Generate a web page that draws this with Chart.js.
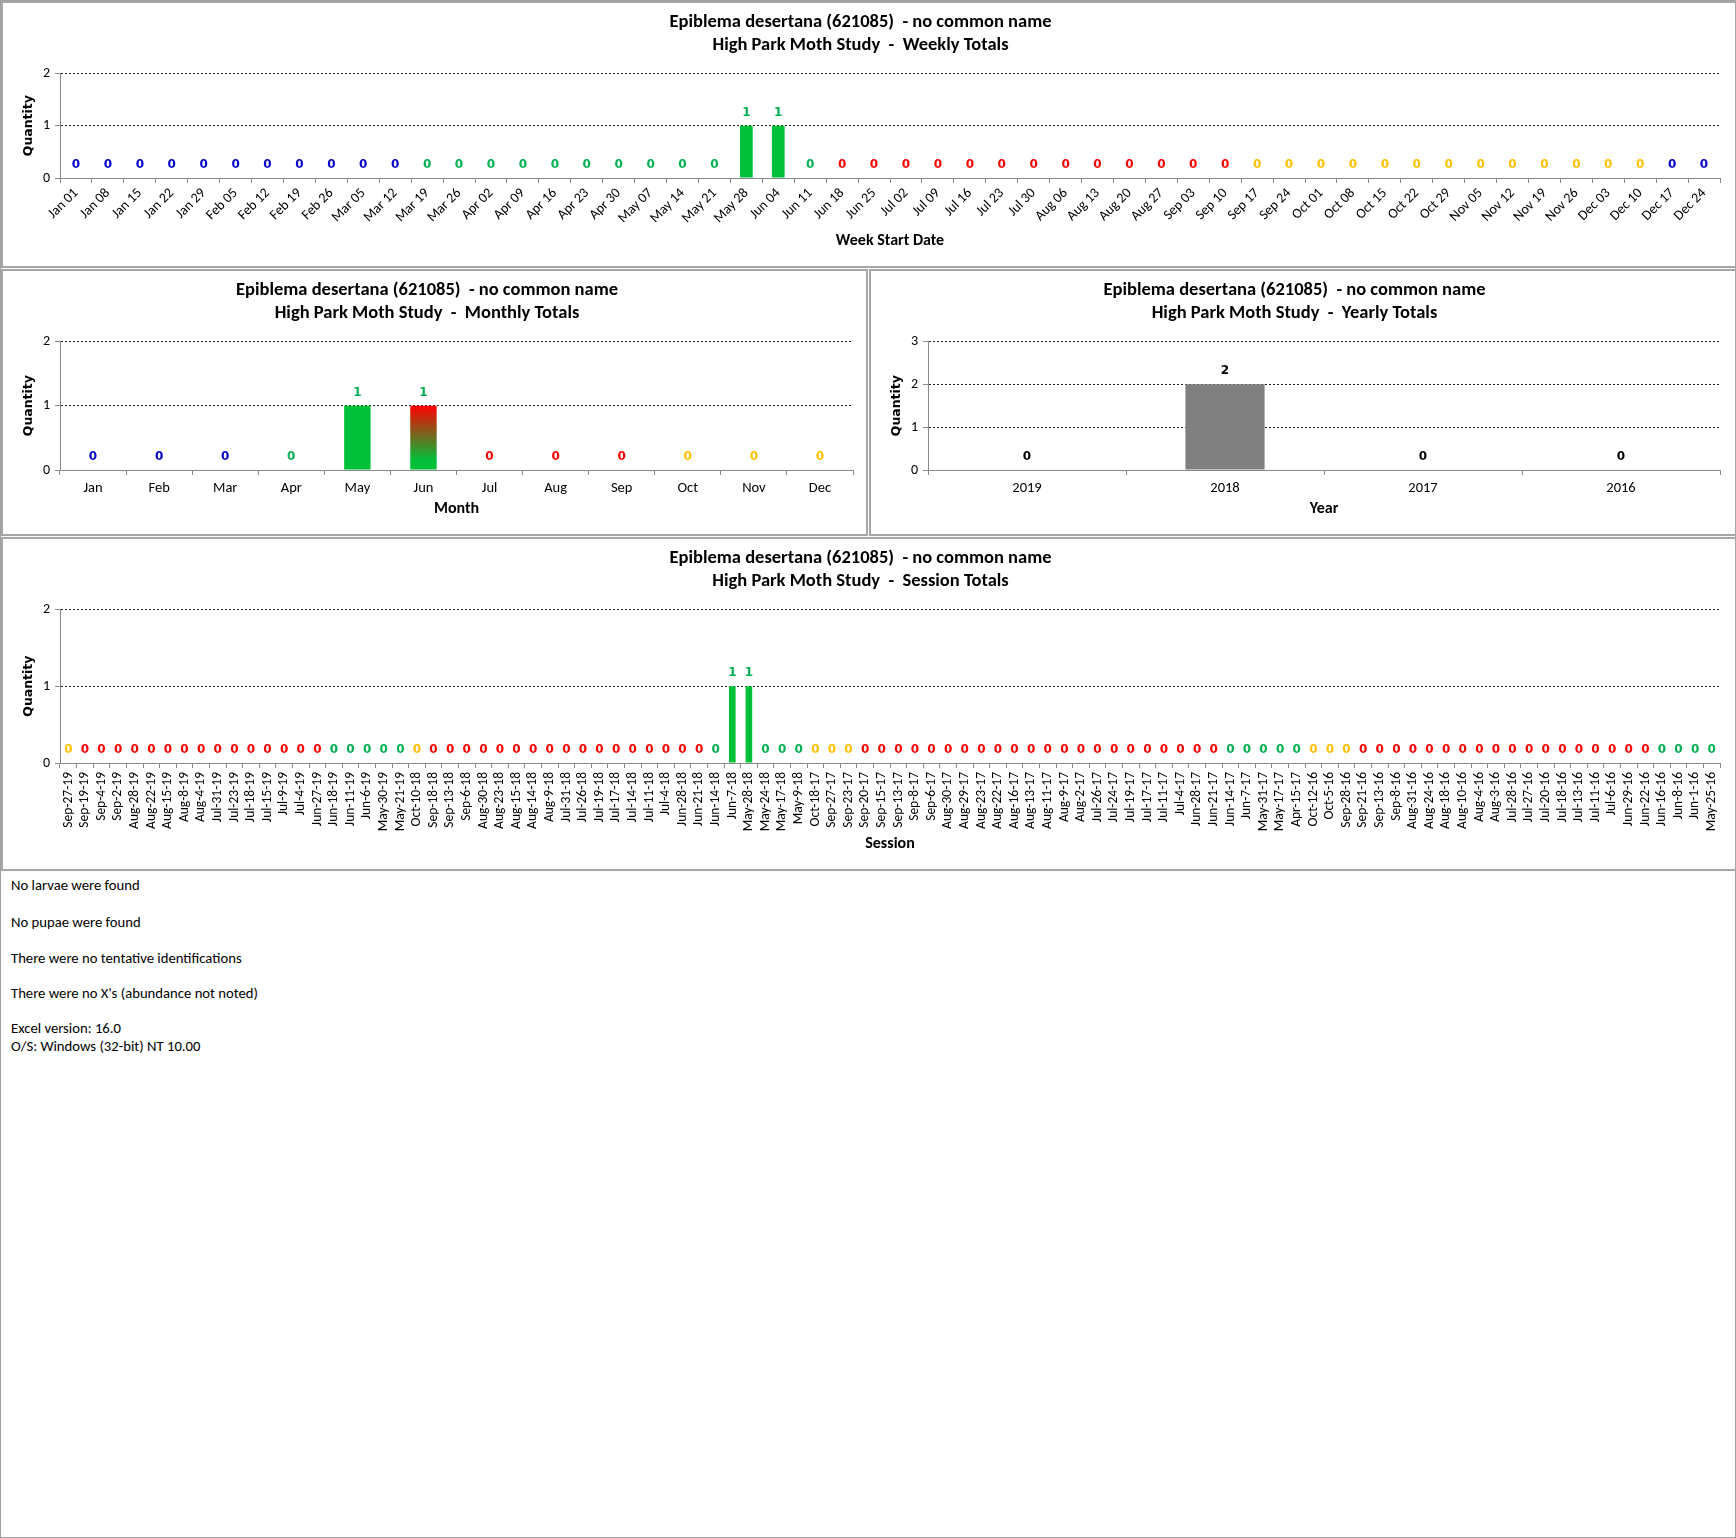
<!DOCTYPE html>
<html>
<head>
<meta charset="utf-8">
<script src="https://cdn.jsdelivr.net/npm/chart.js@4.4.1/dist/chart.umd.min.js"></script>
<style>
  body { margin: 0; background: #fff; }
  #page { position: relative; width: 1736px; height: 1538px; border: 1px solid #a0a0a0; box-sizing: border-box; }
  .panel { position: absolute; border: 2px solid #a6a6a6; box-sizing: border-box; }
  .panel canvas { position: absolute; left: -2px; top: -2px; }
  .note { position: absolute; left: 10px; height: 18px; line-height: 18px; font: 14.7px Carlito, Lato, sans-serif; color: #000; white-space: nowrap; }
</style>
</head>
<body>
<div id="page">
  <div class="panel" style="left:0;top:0;width:1736px;height:267px"><canvas id="weekly"></canvas></div>
  <div class="panel" style="left:0;top:268px;width:867px;height:267px"><canvas id="monthly"></canvas></div>
  <div class="panel" style="left:868px;top:268px;width:868px;height:267px"><canvas id="yearly"></canvas></div>
  <div class="panel" style="left:0;top:536px;width:1736px;height:334px"><canvas id="session"></canvas></div>

  <div class="note" style="top:875px">No larvae were found</div>
  <div class="note" style="top:912px">No pupae were found</div>
  <div class="note" style="top:948px">There were no tentative identifications</div>
  <div class="note" style="top:983px">There were no X's (abundance not noted)</div>
  <div class="note" style="top:1018px">Excel version: 16.0</div>
  <div class="note" style="top:1036px">O/S: Windows (32-bit) NT 10.00</div>
</div>

<script>
const speciesTitle = 'Epiblema desertana (621085)  - no common name';

const weekLabels = ['Jan 01','Jan 08','Jan 15','Jan 22','Jan 29','Feb 05','Feb 12','Feb 19','Feb 26',
  'Mar 05','Mar 12','Mar 19','Mar 26','Apr 02','Apr 09','Apr 16','Apr 23','Apr 30','May 07','May 14',
  'May 21','May 28','Jun 04','Jun 11','Jun 18','Jun 25','Jul 02','Jul 09','Jul 16','Jul 23','Jul 30',
  'Aug 06','Aug 13','Aug 20','Aug 27','Sep 03','Sep 10','Sep 17','Sep 24','Oct 01','Oct 08','Oct 15',
  'Oct 22','Oct 29','Nov 05','Nov 12','Nov 19','Nov 26','Dec 03','Dec 10','Dec 17','Dec 24'];
const weekValues = [0,0,0,0,0,0,0,0,0,0,0,0,0,0,0,0,0,0,0,0,0,1,1,0,0,0,
  0,0,0,0,0,0,0,0,0,0,0,0,0,0,0,0,0,0,0,0,0,0,0,0,0,0];

const monthLabels = ['Jan','Feb','Mar','Apr','May','Jun','Jul','Aug','Sep','Oct','Nov','Dec'];
const monthValues = [0,0,0,0,1,1,0,0,0,0,0,0];

const yearLabels = ['2019','2018','2017','2016'];
const yearValues = [0,2,0,0];

const sessionLabels = ['Sep-27-19','Sep-19-19','Sep-4-19','Sep-2-19','Aug-28-19','Aug-22-19','Aug-15-19',
  'Aug-8-19','Aug-4-19','Jul-31-19','Jul-23-19','Jul-18-19','Jul-15-19','Jul-9-19','Jul-4-19','Jun-27-19',
  'Jun-18-19','Jun-11-19','Jun-6-19','May-30-19','May-21-19','Oct-10-18','Sep-18-18','Sep-13-18','Sep-6-18',
  'Aug-30-18','Aug-23-18','Aug-15-18','Aug-14-18','Aug-9-18','Jul-31-18','Jul-26-18','Jul-19-18','Jul-17-18',
  'Jul-14-18','Jul-11-18','Jul-4-18','Jun-28-18','Jun-21-18','Jun-14-18','Jun-7-18','May-28-18','May-24-18',
  'May-17-18','May-9-18','Oct-18-17','Sep-27-17','Sep-23-17','Sep-20-17','Sep-15-17','Sep-13-17','Sep-8-17',
  'Sep-6-17','Aug-30-17','Aug-29-17','Aug-23-17','Aug-22-17','Aug-16-17','Aug-13-17','Aug-11-17','Aug-9-17',
  'Aug-2-17','Jul-26-17','Jul-24-17','Jul-19-17','Jul-17-17','Jul-11-17','Jul-4-17','Jun-28-17','Jun-21-17',
  'Jun-14-17','Jun-7-17','May-31-17','May-17-17','Apr-15-17','Oct-12-16','Oct-5-16','Sep-28-16','Sep-21-16',
  'Sep-13-16','Sep-8-16','Aug-31-16','Aug-24-16','Aug-18-16','Aug-10-16','Aug-4-16','Aug-3-16','Jul-28-16',
  'Jul-27-16','Jul-20-16','Jul-18-16','Jul-13-16','Jul-11-16','Jul-6-16','Jun-29-16','Jun-22-16','Jun-16-16',
  'Jun-8-16','Jun-1-16','May-25-16'];
const sessionValues = [0,0,0,0,0,0,0,0,0,0,0,0,0,0,0,0,0,0,0,0,
  0,0,0,0,0,0,0,0,0,0,0,0,0,0,0,0,0,0,0,0,
  1,1,0,0,0,0,0,0,0,0,0,0,0,0,0,0,0,0,0,0,
  0,0,0,0,0,0,0,0,0,0,0,0,0,0,0,0,0,0,0,0,
  0,0,0,0,0,0,0,0,0,0,0,0,0,0,0,0,0,0,0,0];

// season colours (text and bars)
const MON = ['Jan','Feb','Mar','Apr','May','Jun','Jul','Aug','Sep','Oct','Nov','Dec'];
const TEXT_COL = { spring: '#00b050', summer: '#ff0000', autumn: '#ffc000', winter: '#0000cc' };
const BAR_COL = { spring: '#00c03a', summer: '#ff0000', autumn: '#ffc000', winter: '#0000cc' };
const CAL = 'Carlito, Calibri, Lato, sans-serif';

function season(m, d) {
  const v = m * 100 + d;
  if (v >= 220 && v <= 520) return 'spring';
  if (v >= 521 && v <= 821) return 'summer';
  if (v >= 822 && v <= 1120) return 'autumn';
  return 'winter';
}
function weekSeason(lbl) {
  const [mm, dd] = lbl.split(' ');
  const end = new Date(2018, MON.indexOf(mm), parseInt(dd, 10) + 6);
  return season(end.getMonth(), end.getDate());
}
function sessionSeason(lbl) {
  const p = lbl.split('-');
  return season(MON.indexOf(p[0]), parseInt(p[1], 10));
}

const valueLabels = {
  id: 'valueLabels',
  afterDatasetsDraw(chart) {
    const ctx = chart.ctx;
    const ds = chart.data.datasets[0];
    const meta = chart.getDatasetMeta(0);
    ctx.save();
    ctx.font = ds.labelFont;
    ctx.textAlign = 'center';
    ctx.textBaseline = 'middle';
    meta.data.forEach((bar, i) => {
      ctx.fillStyle = ds.labelColors[i];
      ctx.fillText(String(ds.data[i]), bar.x, Math.min(bar.y, bar.base) - 13);
    });
    ctx.restore();
  }
};

function barChart(id, w, h, c) {
  const cv = document.getElementById(id);
  cv.width = w; cv.height = h;
  cv.style.width = w + 'px'; cv.style.height = h + 'px';
  return new Chart(cv, {
    type: 'bar',
    data: {
      labels: c.labels,
      datasets: [{
        data: c.values,
        backgroundColor: c.barColors,
        labelColors: c.labelColors,
        labelFont: 'bold 12px "DejaVu Sans"',
        categoryPercentage: 1,
        barPercentage: 0.4
      }]
    },
    options: {
      responsive: false,
      animation: false,
      layout: { padding: { left: 0, right: c.padRight, top: 0, bottom: 0 } },
      plugins: {
        legend: { display: false },
        tooltip: { enabled: false },
        title: {
          display: true,
          text: [speciesTitle, 'High Park Moth Study  -  ' + c.title],
          color: '#000',
          font: { family: CAL, size: 18.5, weight: 'bold', lineHeight: 1.25 },
          padding: { top: 10, bottom: 16 }
        }
      },
      scales: {
        x: {
          offset: true,
          afterFit: s => { s.height = c.xHeight; },
          border: { display: true, color: '#888', width: 1 },
          grid: { drawOnChartArea: false, drawTicks: true, tickLength: 5, tickColor: '#888', offset: true },
          ticks: {
            autoSkip: false, color: '#000', padding: c.tickPad || 3,
            minRotation: c.rotation, maxRotation: c.rotation,
            font: c.xFont
          },
          title: {
            display: true, text: c.xTitle, color: '#000',
            font: { family: CAL, size: 16, weight: 'bold' },
            padding: { top: 0, bottom: 17 }
          }
        },
        y: {
          min: 0, max: c.yMax,
          afterFit: s => { s.width = 59; },
          border: { display: true, color: '#888', width: 1, dash: [2, 2] },
          grid: {
            color: t => (t.tick && t.tick.value === 0) ? 'rgba(0,0,0,0)' : '#222',
            lineWidth: 1, tickLength: 5, tickColor: '#888'
          },
          ticks: { stepSize: 1, color: '#000', padding: 5, font: { family: CAL, size: 14 } },
          title: {
            display: true, text: 'Quantity', color: '#000',
            font: { family: 'DejaVu Sans', size: 12.5, weight: 'bold' },
            padding: { top: 20, bottom: 0 }
          }
        }
      }
    },
    plugins: [valueLabels]
  });
}

// weekly
const weekSeasons = weekLabels.map(weekSeason);
barChart('weekly', 1736, 267, {
  labels: weekLabels, values: weekValues, title: 'Weekly Totals',
  barColors: weekSeasons.map(s => BAR_COL[s]), labelColors: weekSeasons.map(s => TEXT_COL[s]),
  yMax: 2, xTitle: 'Week Start Date', xHeight: 90, padRight: 17, rotation: 45, tickPad: 2,
  xFont: { family: CAL, size: 14 }
});

// monthly: a month that spans two seasons gets a gradient (end season on top)
const monthStart = monthLabels.map((m, i) => season(i, 1));
const monthEnd = monthLabels.map((m, i) => season(i, new Date(2018, i + 1, 0).getDate()));
barChart('monthly', 867, 267, {
  labels: monthLabels, values: monthValues, title: 'Monthly Totals',
  barColors: ctx => {
    const i = ctx.dataIndex;
    const a = BAR_COL[monthStart[i]], b = BAR_COL[monthEnd[i]];
    const chart = ctx.chart;
    if (a === b || !chart.chartArea) return a;
    const y = chart.scales.y;
    const g = chart.ctx.createLinearGradient(0, y.getPixelForValue(monthValues[i]), 0, y.getPixelForValue(0));
    g.addColorStop(0, b);
    g.addColorStop(0.85, a);
    g.addColorStop(1, a);
    return g;
  },
  labelColors: monthStart.map(s => TEXT_COL[s]),
  yMax: 2, xTitle: 'Month', xHeight: 66, padRight: 15, rotation: 0, tickPad: 5,
  xFont: { family: CAL, size: 14.5 }
});

// yearly
barChart('yearly', 868, 267, {
  labels: yearLabels, values: yearValues, title: 'Yearly Totals',
  barColors: '#808080', labelColors: yearLabels.map(() => '#000'),
  yMax: 3, xTitle: 'Year', xHeight: 66, padRight: 17, rotation: 0, tickPad: 5,
  xFont: { family: CAL, size: 14.5 }
});

// session
const sessSeasons = sessionLabels.map(sessionSeason);
barChart('session', 1736, 334, {
  labels: sessionLabels, values: sessionValues, title: 'Session Totals',
  barColors: sessSeasons.map(s => BAR_COL[s]), labelColors: sessSeasons.map(s => TEXT_COL[s]),
  yMax: 2, xTitle: 'Session', xHeight: 108, padRight: 17, rotation: 90, tickPad: 4,
  xFont: { family: CAL, size: 13.5 }
});
</script>
</body>
</html>
